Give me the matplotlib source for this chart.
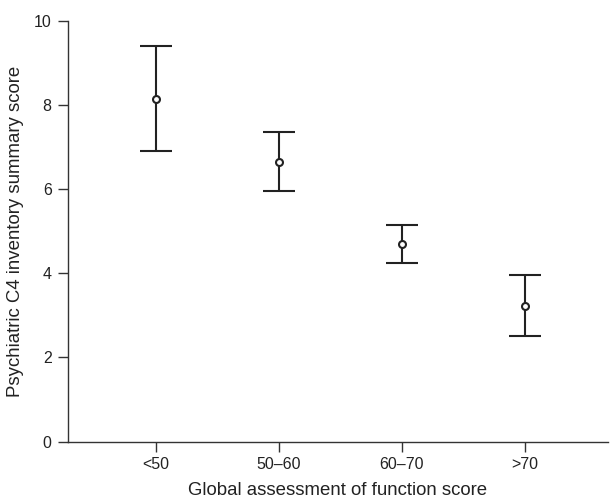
import numpy as np
import matplotlib.pyplot as plt

plt.rcParams['font.family'] = ['Liberation Sans', 'DejaVu Sans']

# Data
groups = ['<50', '50\u201360', '60\u201370', '>70']
means = [8.15, 6.65, 4.69, 3.23]
lower = [6.90, 5.95, 4.24, 2.50]
upper = [9.41, 7.36, 5.14, 3.96]

ink = '#222222'

fig = plt.figure(figsize=(6.1, 5), dpi=100)
ax = fig.add_axes([0.111, 0.117, 0.886, 0.841])

x = np.arange(len(groups))
m = np.array(means)
yerr = [m - np.array(lower), np.array(upper) - m]
ax.errorbar(x, m, yerr=yerr, fmt='o', color=ink, ecolor=ink,
            elinewidth=1.5, capsize=11.5, capthick=1.5,
            markersize=5, markerfacecolor='white', markeredgewidth=1.5,
            markeredgecolor=ink)

ax.set_xlim(-0.72, 3.68)
ax.set_ylim(0, 10)
ax.set_yticks([0, 2, 4, 6, 8, 10])
ax.set_xticks(x)
ax.set_xticklabels(groups)

for side in ['top', 'right']:
    ax.spines[side].set_visible(False)
for side in ['left', 'bottom']:
    ax.spines[side].set_color('#333333')
    ax.spines[side].set_linewidth(1.0)

ax.tick_params(direction='out', length=7.5, width=1.0, color='#333333',
               labelsize=11.5, labelcolor=ink, pad=4)

ax.set_xlabel('Global assessment of function score', fontsize=13.4, color=ink, labelpad=7)
ax.set_ylabel('Psychiatric C4 inventory summary score', fontsize=13.4, color=ink, labelpad=7)

fig.savefig('out.png', dpi=100)
